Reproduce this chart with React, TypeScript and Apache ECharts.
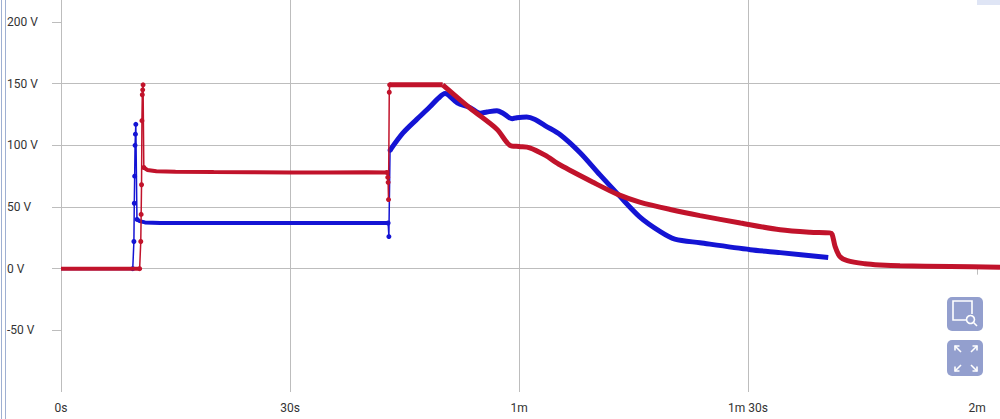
import React, { useEffect, useRef } from "react";
import * as echarts from "echarts";

// time in seconds, value in volts
const xTicks = [0, 30, 60, 90, 120];
const yTicks = [-50, 0, 50, 100, 150, 200];

const redBase = [[0, 0], [10.3, 0]];
const redSpike1 = [[10.3, 0], [10.45, 22], [10.5, 44], [10.55, 68], [10.6, 120], [10.65, 141], [10.7, 145], [10.75, 149], [10.85, 82]];
const redFlat1 = [[10.85, 82], [11.3, 80], [12.5, 79], [15, 78.5], [20, 78.3], [25, 78.2], [30, 78], [35, 78], [40, 78.2], [42.7, 78]];
const redSpike2 = [[42.7, 78], [42.8, 74], [42.85, 70], [42.9, 56], [43.0, 143], [43.05, 149]];
const redPlateau = [[43.05, 149], [46, 149], [50, 149]];
const redBody = [
  [50, 149], [53.6, 130], [57.1, 113], [58.8, 100], [60, 99], [61.4, 98],
  [63.4, 92], [65.4, 84], [69.7, 70], [73, 60], [75.8, 54], [79.8, 48], [83.7, 43], [89, 37],
  [94.2, 31.5], [98.1, 29.5], [100.7, 29], [101.0, 28], [101.4, 18], [102.0, 10], [103.0, 6.5],
  [105.3, 4], [107.3, 3], [109.9, 2.3], [116.5, 1.8], [123, 1.2],
];

const blueBase = [[0, 0], [9.4, 0]];
const blueSpike1 = [[9.4, 0], [9.55, 22], [9.6, 53], [9.65, 75], [9.7, 100], [9.75, 109], [9.8, 117], [9.95, 40]];
const blueFlat1 = [[9.95, 40], [10.3, 38.5], [11, 37.5], [13, 37], [20, 37], [30, 37], [40, 37], [42.85, 37]];
const blueSpike2 = [[42.85, 37], [42.95, 26], [43.1, 96]];
const blueBody = [
  [43.1, 96], [44.8, 110], [46.6, 121], [48.3, 131], [49.4, 138], [50.3, 142], [51.9, 134.5],
  [53.6, 130.5], [54.9, 126], [55.8, 127], [57.1, 128], [57.9, 126], [59.1, 121.5], [59.7, 122.4],
  [61.0, 123], [62.1, 121], [63.4, 116], [65.4, 108.6], [68, 94], [70.6, 76], [73, 60], [75.8, 42],
  [78.5, 30], [80.4, 24], [83.7, 21], [90.3, 15.4], [94.2, 13], [100.5, 9],
];

const RED = "#c1132b";
const BLUE = "#1414d4";
const GRID = "#bdbdbd";

function fmtTime(v: number): string {
  if (v === 0) return "0s";
  const m = Math.floor(v / 60);
  const s = Math.round(v % 60);
  const parts: string[] = [];
  if (m) parts.push(m + "m");
  if (s) parts.push(s + "s");
  return parts.join(" ");
}

function seg(data: number[][], color: string, width: number, dots: boolean, z: number, smooth = 0) {
  return {
    type: "line",
    data,
    z,
    smooth,
    showSymbol: dots,
    symbol: "circle",
    symbolSize: 5,
    itemStyle: { color },
    lineStyle: { color, width },
    emphasis: { disabled: true },
  };
}

export default function App() {
  const ref = useRef<HTMLDivElement>(null);
  useEffect(() => {
    if (!ref.current) return;
    const chart = echarts.init(ref.current, undefined, { renderer: "svg" });
    const white = { stroke: "#fff", lineWidth: 1.6, fill: "none" };
    chart.setOption({
      animation: false,
      textStyle: { fontFamily: "Roboto, sans-serif" },
      grid: { left: 61, right: 0, top: 0, bottom: 27 },
      xAxis: {
        type: "value",
        min: 0,
        max: 123,
        interval: 30,
        axisLine: { show: false },
        axisTick: { show: true, length: 6, customValues: xTicks, lineStyle: { color: GRID } },
        axisLabel: { customValues: xTicks, formatter: fmtTime, color: "#333", fontSize: 12, margin: 10 },
        splitLine: { show: true, showMaxLine: false, lineStyle: { color: GRID, width: 1 } },
      },
      yAxis: {
        type: "value",
        min: -100,
        max: 217.8,
        interval: 50,
        axisLine: { show: false },
        axisTick: { show: true, length: 9, customValues: yTicks, lineStyle: { color: GRID } },
        axisLabel: {
          customValues: yTicks,
          formatter: (v: number) => `${v} V`,
          color: "#333",
          fontSize: 12,
          align: "left",
          margin: 54,
        },
        splitLine: { show: true, showMinLine: false, showMaxLine: false, lineStyle: { color: GRID, width: 1 } },
      },
      series: [
        seg(blueBase, BLUE, 3, false, 2),
        seg(blueSpike1, BLUE, 1.5, true, 2),
        seg(blueFlat1, BLUE, 4, false, 2),
        seg(blueSpike2, BLUE, 1.5, true, 2),
        seg(blueBody, BLUE, 5, false, 2, 0.3),
        seg(redBase, RED, 4, false, 3),
        seg(redSpike1, RED, 1.5, true, 3),
        seg(redFlat1, RED, 4, false, 3),
        seg(redSpike2, RED, 1.5, true, 3),
        seg(redPlateau, RED, 5, false, 3),
        seg(redBody, RED, 5, false, 3, 0.3),
      ],
      graphic: [
        { type: "line", shape: { x1: 1.5, y1: 0, x2: 1.5, y2: 419 }, style: { stroke: "#9fb0d2", lineWidth: 1 } },
        { type: "line", shape: { x1: 5.5, y1: 0, x2: 5.5, y2: 419 }, style: { stroke: "#9fb0d2", lineWidth: 1 } },
        { type: "rect", shape: { x: 977, y: 0, width: 23, height: 5 }, style: { fill: "#dfe5f5" } },
        { type: "rect", shape: { x: 947, y: 297, width: 36, height: 34, r: 5 }, style: { fill: "rgba(128,142,198,0.85)" }, z: 10 },
        { type: "rect", shape: { x: 947, y: 340, width: 36, height: 36, r: 5 }, style: { fill: "rgba(128,142,198,0.85)" }, z: 10 },
        { type: "polyline", shape: { points: [[966, 320], [953, 320], [953, 301], [972, 301], [972, 314]] }, style: white, z: 11 },
        { type: "circle", shape: { cx: 970.5, cy: 319.5, r: 4 }, style: white, z: 11 },
        { type: "line", shape: { x1: 973.5, y1: 322.5, x2: 977, y2: 326 }, style: white, z: 11 },
        { type: "line", shape: { x1: 955, y1: 346, x2: 961, y2: 352 }, style: white, z: 11 },
        { type: "polyline", shape: { points: [[955, 350.5], [955, 346], [959.5, 346]] }, style: white, z: 11 },
        { type: "line", shape: { x1: 977, y1: 346, x2: 971, y2: 352 }, style: white, z: 11 },
        { type: "polyline", shape: { points: [[972.5, 346], [977, 346], [977, 350.5]] }, style: white, z: 11 },
        { type: "line", shape: { x1: 955, y1: 371, x2: 961, y2: 365 }, style: white, z: 11 },
        { type: "polyline", shape: { points: [[955, 366.5], [955, 371], [959.5, 371]] }, style: white, z: 11 },
        { type: "line", shape: { x1: 977, y1: 371, x2: 971, y2: 365 }, style: white, z: 11 },
        { type: "polyline", shape: { points: [[977, 366.5], [977, 371], [972.5, 371]] }, style: white, z: 11 },
      ],
    });
    return () => chart.dispose();
  }, []);
  return (
    <div
      ref={ref}
      style={{ position: "fixed", left: 0, top: 0, width: 1000, height: 419, background: "#fff" }}
    />
  );
}
